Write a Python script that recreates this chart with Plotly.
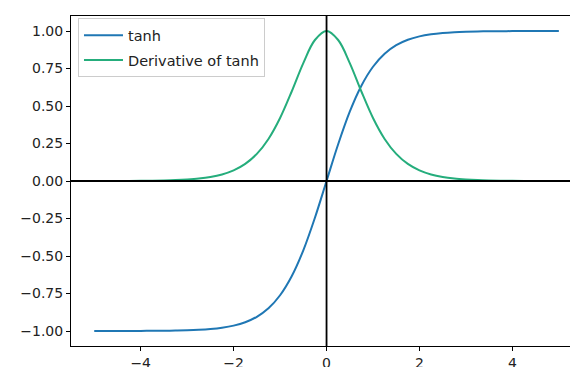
import plotly.graph_objects as go

# Sample points of tanh and its derivative, x from -5 to 5
x_vals = [-5.0, -4.75, -4.5, -4.25, -4.0, -3.75, -3.5, -3.25, -3.0, -2.75, -2.5,
          -2.25, -2.0, -1.75, -1.5, -1.25, -1.0, -0.75, -0.5, -0.25, 0.0,
          0.25, 0.5, 0.75, 1.0, 1.25, 1.5, 1.75, 2.0, 2.25, 2.5,
          2.75, 3.0, 3.25, 3.5, 3.75, 4.0, 4.25, 4.5, 4.75, 5.0]

tanh_vals = [-0.9999, -0.9999, -0.9998, -0.9996, -0.9993, -0.9989, -0.9982, -0.9970,
             -0.9951, -0.9919, -0.9866, -0.9780, -0.9640, -0.9414, -0.9051, -0.8483,
             -0.7616, -0.6351, -0.4621, -0.2449, 0.0,
             0.2449, 0.4621, 0.6351, 0.7616, 0.8483, 0.9051, 0.9414, 0.9640,
             0.9780, 0.9866, 0.9919, 0.9951, 0.9970, 0.9982, 0.9989, 0.9993,
             0.9996, 0.9998, 0.9999, 0.9999]

dtanh_vals = [0.0002, 0.0003, 0.0005, 0.0008, 0.0013, 0.0022, 0.0036, 0.0060,
              0.0099, 0.0162, 0.0266, 0.0435, 0.0707, 0.1138, 0.1807, 0.2804,
              0.4200, 0.5966, 0.7864, 0.9400, 1.0,
              0.9400, 0.7864, 0.5966, 0.4200, 0.2804, 0.1807, 0.1138, 0.0707,
              0.0435, 0.0266, 0.0162, 0.0099, 0.0060, 0.0036, 0.0022, 0.0013,
              0.0008, 0.0005, 0.0003, 0.0002]

x_ticks = [-4, -2, 0, 2, 4]
x_tick_labels = ["\u22124", "\u22122", "0", "2", "4"]
y_ticks = [1.0, 0.75, 0.5, 0.25, 0.0, -0.25, -0.5, -0.75, -1.0]
y_tick_labels = ["1.00", "0.75", "0.50", "0.25", "0.00",
                 "\u22120.25", "\u22120.50", "\u22120.75", "\u22121.00"]

BLUE = "#1f77b4"
GREEN = "#25ad7c"
FONT = "DejaVu Sans"

fig = go.Figure()
fig.add_trace(go.Scatter(x=x_vals, y=tanh_vals, mode="lines", name="tanh",
                         legendgroup="a",
                         line=dict(color=BLUE, width=2, shape="spline")))
fig.add_trace(go.Scatter(x=x_vals, y=dtanh_vals, mode="lines", name="Derivative of tanh",
                         legendgroup="b",
                         line=dict(color=GREEN, width=2, shape="spline")))

# Black reference lines through the origin
fig.add_shape(type="line", xref="paper", yref="y", x0=0, x1=1, y0=0, y1=0,
              line=dict(color="black", width=1.8), layer="above")
fig.add_shape(type="line", xref="x", yref="paper", x0=0, x1=0, y0=0, y1=1,
              line=dict(color="black", width=1.8), layer="above")

fig.update_layout(
    width=570, height=367,
    margin=dict(l=71, r=0, t=16, b=21, autoexpand=False),
    paper_bgcolor="white", plot_bgcolor="white",
    font=dict(family=FONT, size=14, color="#222"),
    showlegend=True,
    legend=dict(x=0.014, y=0.993, xanchor="left", yanchor="top",
                traceorder="grouped", tracegroupgap=3, itemwidth=39,
                bgcolor="rgba(255,255,255,0.8)", bordercolor="#cccccc", borderwidth=1,
                font=dict(family=FONT, size=14.5, color="#222")),
)
fig.update_xaxes(range=[-5.5, 5.24], tickvals=x_ticks, ticktext=x_tick_labels,
                 showgrid=False, zeroline=False, showline=True, linecolor="black",
                 linewidth=1, mirror=True, ticks="outside", ticklen=4,
                 tickcolor="black", tickwidth=1, ticklabelstandoff=0, automargin=False)
fig.update_yaxes(range=[-1.1, 1.1], tickvals=y_ticks, ticktext=y_tick_labels,
                 showgrid=False, zeroline=False, showline=True, linecolor="black",
                 linewidth=1, mirror=False, ticks="outside", ticklen=4,
                 tickcolor="black", tickwidth=1, automargin=False)

fig.write_html("out.html")
